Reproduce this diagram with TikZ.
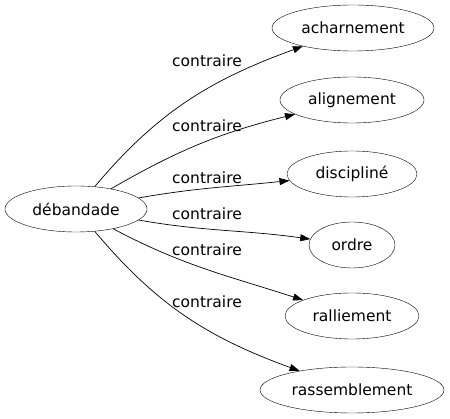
\documentclass[tikz,border=0pt]{standalone}
\usepackage{fontspec}
\setmainfont{DejaVu Sans}
\usetikzlibrary{shapes.geometric,arrows.meta}

\begin{document}
\begin{tikzpicture}[x=1pt,y=1pt,
        word/.style={draw, ellipse, inner sep=0pt, minimum height=46pt, font=\fontsize{15.5}{18}\selectfont},
        rel/.style={-{Triangle[length=10pt,width=7pt]}, line width=0.7pt},
        lab/.style={font=\fontsize{15.5}{18}\selectfont}]
        \useasboundingbox (0,0) rectangle (450,419);
        \node[word, minimum width=142pt] (deb) at (76,210) {débandade};
        \node[word, minimum width=162pt] (ach) at (353,391) {acharnement};
        \node[word, minimum width=144pt] (ali) at (352,319) {alignement};
        \node[word, minimum width=130pt] (dis) at (352,245) {discipliné};
        \node[word, minimum width=86pt]  (ord) at (352,174) {ordre};
        \node[word, minimum width=134pt] (ral) at (352,103) {ralliement};
        \node[word, minimum width=184pt] (ras) at (352,29)  {rassemblement};
        \draw[rel] (deb) to[out=50,in=200]  (ach);
        \draw[rel] (deb) to[out=30,in=194]  (ali);
        \draw[rel] (deb) to[out=10,in=186]  (dis);
        \draw[rel] (deb) to[out=-10,in=172] (ord);
        \draw[rel] (deb) to[out=-28,in=162] (ral);
        \draw[rel] (deb) to[out=-50,in=160] (ras);
        \node[lab] (l1) at (207,358) {contraire};
        \node[lab] (l2) at (207,293) {contraire};
        \node[lab] (l3) at (207,241) {contraire};
        \node[lab] (l4) at (207,205) {contraire};
        \node[lab] (l5) at (207,169) {contraire};
        \node[lab] (l6) at (207,117) {contraire};
\end{tikzpicture}
\end{document}
